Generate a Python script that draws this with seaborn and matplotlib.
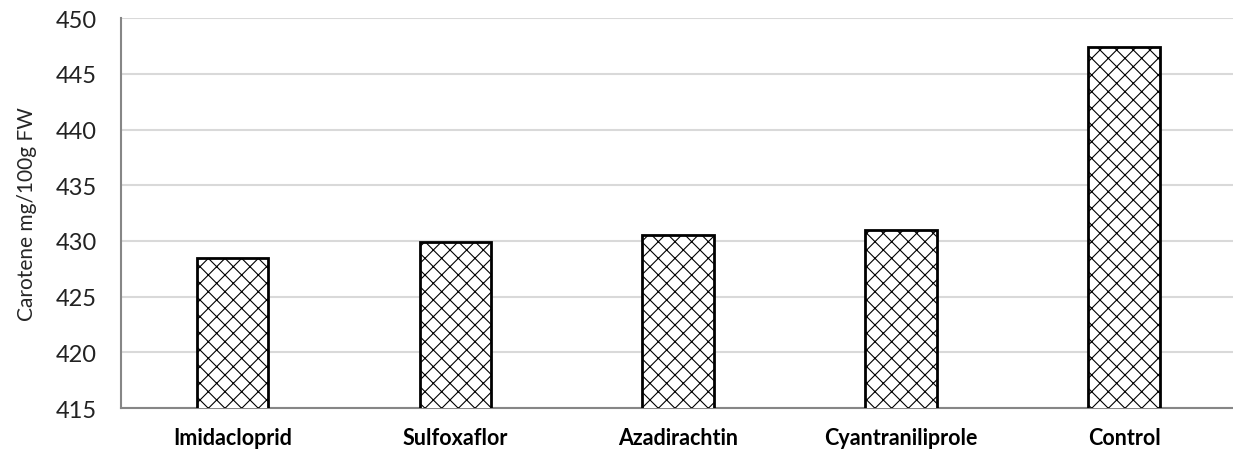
import matplotlib
matplotlib.use('Agg')
import matplotlib.pyplot as plt
import seaborn as sns

# Data
treatments = ['Imidacloprid', 'Sulfoxaflor', 'Azadirachtin', 'Cyantraniliprole', 'Control']
carotene = [428.5, 429.9, 430.5, 431.0, 447.4]
y_ticks = [415, 420, 425, 430, 435, 440, 445, 450]

sns.set_style('white')
plt.rcParams['font.family'] = ['Lato', 'DejaVu Sans']
plt.rcParams['hatch.linewidth'] = 0.8
plt.rcParams['hatch.color'] = 'black'

fig = plt.figure(figsize=(12.33, 4.56), dpi=100)
ax = fig.add_axes([0.098, 0.103, 0.904, 0.855])

sns.barplot(x=treatments, y=carotene, color='white', edgecolor='black',
            linewidth=2, width=0.32, saturation=1, ax=ax, zorder=3)
for p in ax.patches:
    p.set_hatch('xx')

ax.set_ylim(415, 450)
ax.set_yticks(y_ticks)
ax.yaxis.grid(True, color='#d9d9d9', linewidth=1.5, zorder=0)
ax.set_axisbelow(True)

for s in ['top', 'right']:
    ax.spines[s].set_visible(False)
for s in ['left', 'bottom']:
    ax.spines[s].set_color('#868686')
    ax.spines[s].set_linewidth(1.5)

ax.tick_params(axis='y', labelsize=17, length=0, pad=17)
ax.tick_params(axis='x', labelsize=15.5, length=0, pad=14)
for lbl in ax.get_xticklabels():
    lbl.set_fontweight('bold')
    lbl.set_color('black')
for lbl in ax.get_yticklabels():
    lbl.set_color('#222222')

ax.set_ylabel('Carotene mg/100g FW', fontsize=15, labelpad=14)
ax.set_xlabel('')

fig.savefig('out.png', dpi=100)
